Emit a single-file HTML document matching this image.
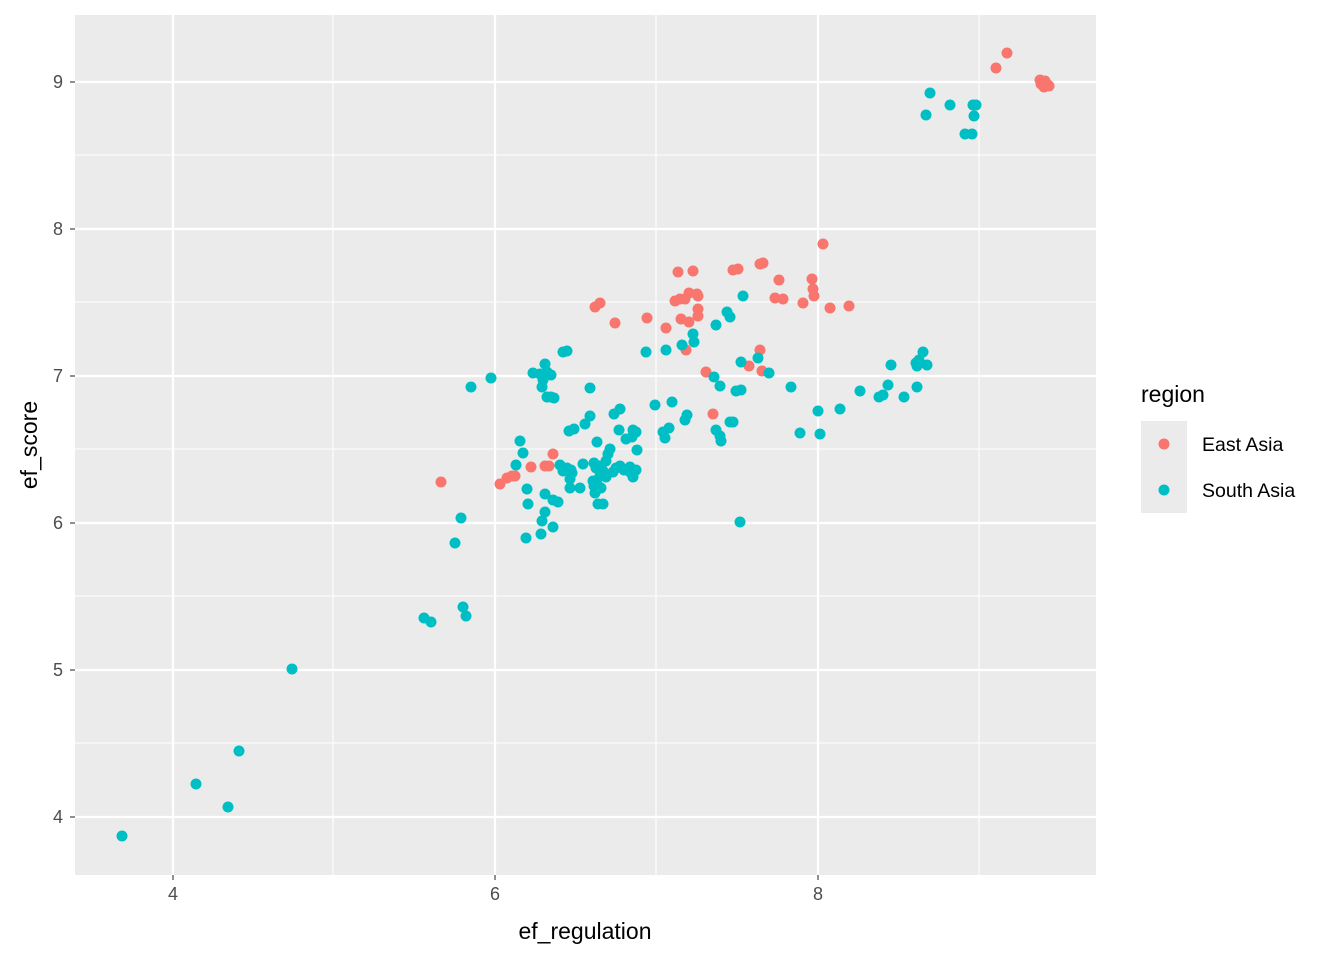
<!DOCTYPE html>
<html><head><meta charset="utf-8"><style>body{margin:0;background:#fff}svg{display:block}text{font-family:"Liberation Sans",Arial,sans-serif}</style></head><body>
<svg width="1344" height="960" xmlns="http://www.w3.org/2000/svg">
<rect x="75" y="15" width="1021" height="860" fill="#EBEBEB"/>
<g stroke="#fff" stroke-width="1.1">
<line x1="333" x2="333" y1="15" y2="875"/><line x1="656" x2="656" y1="15" y2="875"/><line x1="979" x2="979" y1="15" y2="875"/>
<line x1="75" x2="1096" y1="155" y2="155"/><line x1="75" x2="1096" y1="302" y2="302"/><line x1="75" x2="1096" y1="449" y2="449"/><line x1="75" x2="1096" y1="596" y2="596"/><line x1="75" x2="1096" y1="743" y2="743"/>
</g>
<g stroke="#fff" stroke-width="2.2">
<line x1="173" x2="173" y1="15" y2="875"/><line x1="495" x2="495" y1="15" y2="875"/><line x1="818" x2="818" y1="15" y2="875"/>
<line x1="75" x2="1096" y1="82" y2="82"/><line x1="75" x2="1096" y1="229" y2="229"/><line x1="75" x2="1096" y1="376" y2="376"/><line x1="75" x2="1096" y1="523" y2="523"/><line x1="75" x2="1096" y1="670" y2="670"/><line x1="75" x2="1096" y1="817" y2="817"/>
</g>
<g fill="#F8766D">
<circle cx="1007" cy="53" r="5.5"/><circle cx="996" cy="68" r="5.5"/><circle cx="1040" cy="80" r="5.5"/><circle cx="1043" cy="83" r="5.5"/><circle cx="1046" cy="86" r="5.5"/><circle cx="1049" cy="86" r="5.5"/><circle cx="1041" cy="84" r="5.5"/><circle cx="1045" cy="81" r="5.5"/><circle cx="1048" cy="85" r="5.5"/><circle cx="1044" cy="87" r="5.5"/>
<circle cx="823" cy="244" r="5.5"/><circle cx="678" cy="272" r="5.5"/><circle cx="693" cy="271" r="5.5"/><circle cx="763" cy="263" r="5.5"/><circle cx="760" cy="264" r="5.5"/><circle cx="738" cy="269" r="5.5"/><circle cx="733" cy="270" r="5.5"/><circle cx="779" cy="280" r="5.5"/><circle cx="812" cy="279" r="5.5"/><circle cx="689" cy="293" r="5.5"/><circle cx="697" cy="294" r="5.5"/><circle cx="698" cy="296" r="5.5"/><circle cx="685" cy="299" r="5.5"/><circle cx="680" cy="299" r="5.5"/><circle cx="675" cy="301" r="5.5"/><circle cx="813" cy="289" r="5.5"/><circle cx="814" cy="296" r="5.5"/><circle cx="775" cy="298" r="5.5"/><circle cx="783" cy="299" r="5.5"/><circle cx="803" cy="303" r="5.5"/><circle cx="830" cy="308" r="5.5"/><circle cx="849" cy="306" r="5.5"/><circle cx="600" cy="303" r="5.5"/><circle cx="595" cy="307" r="5.5"/><circle cx="647" cy="318" r="5.5"/><circle cx="615" cy="323" r="5.5"/><circle cx="681" cy="319" r="5.5"/><circle cx="689" cy="322" r="5.5"/><circle cx="698" cy="309" r="5.5"/><circle cx="698" cy="316" r="5.5"/><circle cx="666" cy="328" r="5.5"/><circle cx="686" cy="350" r="5.5"/><circle cx="760" cy="350" r="5.5"/><circle cx="749" cy="366" r="5.5"/><circle cx="706" cy="372" r="5.5"/><circle cx="762" cy="371" r="5.5"/><circle cx="713" cy="414" r="5.5"/><circle cx="553" cy="454" r="5.5"/><circle cx="549" cy="466" r="5.5"/><circle cx="545" cy="466" r="5.5"/><circle cx="531" cy="467" r="5.5"/><circle cx="515" cy="476" r="5.5"/><circle cx="507" cy="478" r="5.5"/><circle cx="512" cy="476" r="5.5"/><circle cx="500" cy="484" r="5.5"/><circle cx="441" cy="482" r="5.5"/>
</g>
<g fill="#00BFC4">
<circle cx="930" cy="93" r="5.5"/><circle cx="950" cy="105" r="5.5"/><circle cx="976" cy="105" r="5.5"/><circle cx="973" cy="105" r="5.5"/><circle cx="926" cy="115" r="5.5"/><circle cx="974" cy="116" r="5.5"/><circle cx="965" cy="134" r="5.5"/><circle cx="972" cy="134" r="5.5"/>
<circle cx="743" cy="296" r="5.5"/><circle cx="727" cy="312" r="5.5"/><circle cx="730" cy="317" r="5.5"/><circle cx="716" cy="325" r="5.5"/><circle cx="693" cy="334" r="5.5"/><circle cx="682" cy="345" r="5.5"/><circle cx="694" cy="342" r="5.5"/><circle cx="666" cy="350" r="5.5"/><circle cx="646" cy="352" r="5.5"/><circle cx="567" cy="351" r="5.5"/><circle cx="563" cy="352" r="5.5"/><circle cx="758" cy="358" r="5.5"/><circle cx="741" cy="362" r="5.5"/><circle cx="491" cy="378" r="5.5"/><circle cx="471" cy="387" r="5.5"/><circle cx="545" cy="364" r="5.5"/><circle cx="547" cy="372" r="5.5"/><circle cx="551" cy="375" r="5.5"/><circle cx="533" cy="373" r="5.5"/><circle cx="540" cy="374" r="5.5"/><circle cx="542" cy="387" r="5.5"/><circle cx="543" cy="380" r="5.5"/><circle cx="551" cy="397" r="5.5"/><circle cx="547" cy="397" r="5.5"/><circle cx="554" cy="398" r="5.5"/><circle cx="590" cy="388" r="5.5"/><circle cx="714" cy="377" r="5.5"/><circle cx="720" cy="386" r="5.5"/><circle cx="741" cy="390" r="5.5"/><circle cx="769" cy="373" r="5.5"/><circle cx="791" cy="387" r="5.5"/><circle cx="736" cy="391" r="5.5"/><circle cx="891" cy="365" r="5.5"/><circle cx="923" cy="352" r="5.5"/><circle cx="919" cy="360" r="5.5"/><circle cx="916" cy="363" r="5.5"/><circle cx="927" cy="365" r="5.5"/><circle cx="917" cy="366" r="5.5"/><circle cx="888" cy="385" r="5.5"/><circle cx="917" cy="387" r="5.5"/><circle cx="860" cy="391" r="5.5"/><circle cx="879" cy="397" r="5.5"/><circle cx="883" cy="395" r="5.5"/><circle cx="904" cy="397" r="5.5"/><circle cx="818" cy="411" r="5.5"/><circle cx="840" cy="409" r="5.5"/><circle cx="800" cy="433" r="5.5"/><circle cx="820" cy="434" r="5.5"/><circle cx="655" cy="405" r="5.5"/><circle cx="672" cy="402" r="5.5"/><circle cx="669" cy="428" r="5.5"/><circle cx="663" cy="432" r="5.5"/><circle cx="665" cy="438" r="5.5"/><circle cx="685" cy="420" r="5.5"/><circle cx="687" cy="415" r="5.5"/><circle cx="716" cy="430" r="5.5"/><circle cx="720" cy="436" r="5.5"/><circle cx="721" cy="441" r="5.5"/><circle cx="733" cy="422" r="5.5"/><circle cx="730" cy="422" r="5.5"/><circle cx="620" cy="409" r="5.5"/><circle cx="614" cy="414" r="5.5"/><circle cx="569" cy="431" r="5.5"/><circle cx="574" cy="429" r="5.5"/><circle cx="590" cy="416" r="5.5"/><circle cx="585" cy="424" r="5.5"/><circle cx="597" cy="442" r="5.5"/><circle cx="619" cy="430" r="5.5"/><circle cx="633" cy="430" r="5.5"/><circle cx="636" cy="432" r="5.5"/><circle cx="632" cy="437" r="5.5"/><circle cx="626" cy="439" r="5.5"/><circle cx="610" cy="449" r="5.5"/><circle cx="608" cy="454" r="5.5"/><circle cx="606" cy="461" r="5.5"/><circle cx="637" cy="450" r="5.5"/><circle cx="520" cy="441" r="5.5"/><circle cx="523" cy="453" r="5.5"/><circle cx="516" cy="465" r="5.5"/><circle cx="560" cy="465" r="5.5"/><circle cx="567" cy="468" r="5.5"/><circle cx="563" cy="471" r="5.5"/><circle cx="571" cy="470" r="5.5"/><circle cx="583" cy="464" r="5.5"/><circle cx="594" cy="463" r="5.5"/><circle cx="599" cy="466" r="5.5"/><circle cx="596" cy="468" r="5.5"/><circle cx="603" cy="471" r="5.5"/><circle cx="616" cy="468" r="5.5"/><circle cx="620" cy="466" r="5.5"/><circle cx="624" cy="470" r="5.5"/><circle cx="630" cy="472" r="5.5"/><circle cx="633" cy="477" r="5.5"/><circle cx="636" cy="470" r="5.5"/><circle cx="630" cy="467" r="5.5"/><circle cx="613" cy="472" r="5.5"/><circle cx="606" cy="477" r="5.5"/><circle cx="600" cy="476" r="5.5"/><circle cx="597" cy="484" r="5.5"/><circle cx="601" cy="488" r="5.5"/><circle cx="595" cy="493" r="5.5"/><circle cx="594" cy="486" r="5.5"/><circle cx="593" cy="481" r="5.5"/><circle cx="572" cy="473" r="5.5"/><circle cx="570" cy="479" r="5.5"/><circle cx="570" cy="488" r="5.5"/><circle cx="580" cy="488" r="5.5"/><circle cx="527" cy="489" r="5.5"/><circle cx="545" cy="494" r="5.5"/><circle cx="553" cy="500" r="5.5"/><circle cx="558" cy="502" r="5.5"/><circle cx="528" cy="504" r="5.5"/><circle cx="545" cy="512" r="5.5"/><circle cx="542" cy="521" r="5.5"/><circle cx="541" cy="534" r="5.5"/><circle cx="526" cy="538" r="5.5"/><circle cx="553" cy="527" r="5.5"/><circle cx="598" cy="504" r="5.5"/><circle cx="603" cy="504" r="5.5"/><circle cx="740" cy="522" r="5.5"/><circle cx="461" cy="518" r="5.5"/><circle cx="455" cy="543" r="5.5"/><circle cx="463" cy="607" r="5.5"/><circle cx="466" cy="616" r="5.5"/><circle cx="424" cy="618" r="5.5"/><circle cx="431" cy="622" r="5.5"/><circle cx="292" cy="669" r="5.5"/><circle cx="239" cy="751" r="5.5"/><circle cx="196" cy="784" r="5.5"/><circle cx="228" cy="807" r="5.5"/><circle cx="122" cy="836" r="5.5"/>
</g>
<g stroke="#333" stroke-width="1.1">
<line x1="173" x2="173" y1="875" y2="880"/><line x1="495" x2="495" y1="875" y2="880"/><line x1="818" x2="818" y1="875" y2="880"/>
<line x1="70" x2="75" y1="82" y2="82"/><line x1="70" x2="75" y1="229" y2="229"/><line x1="70" x2="75" y1="376" y2="376"/><line x1="70" x2="75" y1="523" y2="523"/><line x1="70" x2="75" y1="670" y2="670"/><line x1="70" x2="75" y1="817" y2="817"/>
</g>
<g font-size="18" fill="#4D4D4D">
<text x="173" y="900" text-anchor="middle">4</text><text x="495" y="900" text-anchor="middle">6</text><text x="818" y="900" text-anchor="middle">8</text>
<g text-anchor="end"><text x="63" y="88">9</text><text x="63" y="235">8</text><text x="63" y="382">7</text><text x="63" y="529">6</text><text x="63" y="676">5</text><text x="63" y="823">4</text></g>
</g>
<text x="585" y="939" font-size="23" text-anchor="middle">ef_regulation</text>
<text transform="translate(37,445) rotate(-90)" font-size="23" text-anchor="middle">ef_score</text>
<text x="1141" y="402" font-size="23">region</text>
<rect x="1141" y="421" width="46" height="46" fill="#EBEBEB"/><rect x="1141" y="467" width="46" height="46" fill="#EBEBEB"/>
<circle cx="1164" cy="444" r="5.5" fill="#F8766D"/><circle cx="1164" cy="490" r="5.5" fill="#00BFC4"/>
<text x="1202" y="451" font-size="19.5">East Asia</text><text x="1202" y="497" font-size="19.5">South Asia</text>
</svg>
</body></html>
